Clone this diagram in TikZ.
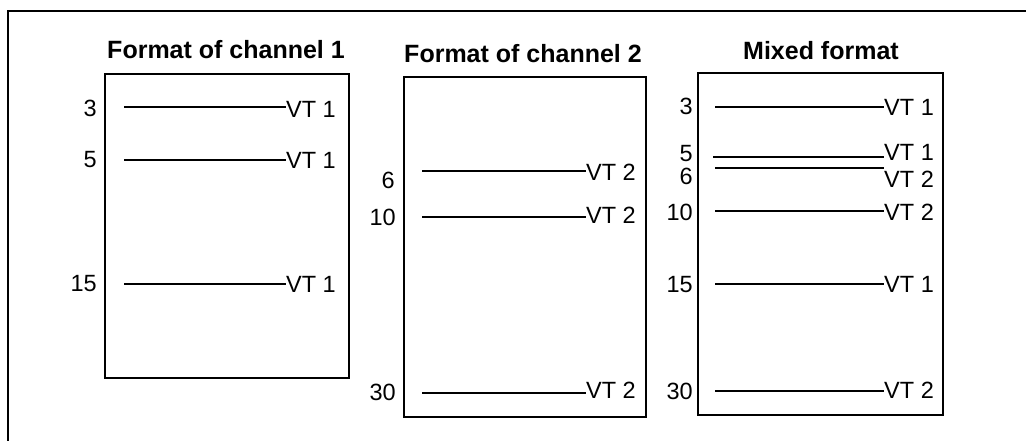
\documentclass[tikz,border=0pt]{standalone}
\usepackage{fontspec}
\setmainfont{Liberation Sans}
\begin{document}
\begin{tikzpicture}[x=1pt,y=-1pt,
  panel/.style={draw, line width=1.8pt, inner sep=0pt, anchor=north west},
  heading/.style={font=\fontsize{25}{28}\selectfont\bfseries, anchor=base, inner sep=0pt},
  vtlabel/.style={font=\fontsize{23.5}{26}\selectfont, anchor=west, inner sep=0pt},
  num/.style={font=\fontsize{23.5}{26}\selectfont, anchor=east, inner sep=0pt},
  rule/.style={line width=1.7pt}]
\useasboundingbox (0,0) rectangle (1026,440);
\clip (0,0) rectangle (1026,440);

% outer frame (only the top and left edges fall inside the page)
\node[draw, line width=2pt, inner sep=0pt, anchor=north west,
      minimum width=1060pt, minimum height=460pt] (frame) at (7,10) {};

% one timing row: #1 name, #2 line y, #3 line start x, #4 line end x,
% #5 label, #6 label centre y, #7 number, #8 number right x, #9 number centre y
\newcommand\tvrow[9]{%
  \coordinate (#1s) at (#3,#2);
  \node[vtlabel] (#1l) at (#4,#6) {#5};
  \node[num] (#1n) at (#8,#9) {#7};
  \draw[rule] (#1s) -- (#1s -| #1l.west);
}

% channel 1
\node[heading] (t1) at (226,58) {Format of channel 1};
\node[panel, minimum width=244pt, minimum height=304pt] (p1) at (104,73) {};
\tvrow{a}{107}{124}{286}{VT 1}{109}{3}{97}{108}
\tvrow{b}{160}{124}{286}{VT 1}{160}{5}{97}{160}
\tvrow{c}{284}{124}{286}{VT 1}{284}{15}{97}{284}

% channel 2
\node[heading] (t2) at (523,62) {Format of channel 2};
\node[panel, minimum width=242pt, minimum height=340pt] (p2) at (403,76) {};
\tvrow{d}{171}{422}{586}{VT 2}{172}{6}{395}{180}
\tvrow{e}{217}{422}{586}{VT 2}{215}{10}{396}{217}
\tvrow{f}{393}{422}{586}{VT 2}{390}{30}{396}{392}

% mixed format
\node[heading] (t3) at (821,59) {Mixed format};
\node[panel, minimum width=245pt, minimum height=342pt] (p3) at (697,72) {};
\tvrow{g}{107}{715}{884}{VT 1}{107.5}{3}{693}{106}
\tvrow{h}{157}{713}{884}{VT 1}{152}{5}{693}{154}
\tvrow{i}{168}{715}{884}{VT 2}{179}{6}{693}{176.5}
\tvrow{j}{211}{715}{884}{VT 2}{212}{10}{693}{212}
\tvrow{k}{284}{715}{884}{VT 1}{284}{15}{693}{285}
\tvrow{m}{391}{715}{884}{VT 2}{390.5}{30}{693}{391}
\end{tikzpicture}
\end{document}
